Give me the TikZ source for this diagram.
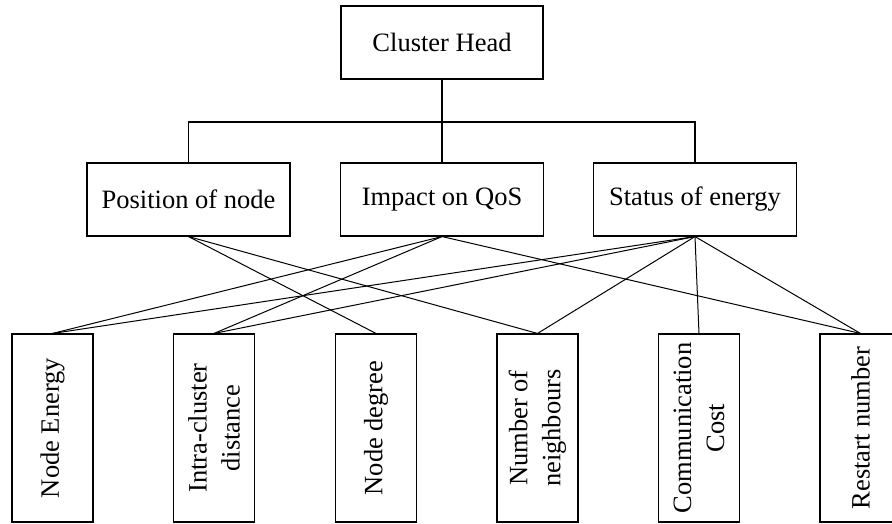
\documentclass[tikz,border=0pt]{standalone}
\usepackage{fontspec}
\setmainfont{Liberation Serif}
\begin{document}
\begin{tikzpicture}[x=1pt,y=-1pt,
  line width=1.1pt,
  box/.style={draw, rectangle, inner sep=0pt, align=center,
    font=\fontsize{26.5}{33}\selectfont},
  midbox/.style={box, minimum width=203pt, minimum height=73pt},
  leafbox/.style={box, rotate=90, minimum width=188pt, minimum height=81pt},
  link/.style={draw, line width=1pt}]
\useasboundingbox (0,0) rectangle (892,524);
\node[midbox, minimum width=202pt] (ch) at (442,42.5) {Cluster Head};
\node[midbox] (pos) at (188.5,199.5) {Position of node};
\node[midbox] (imp) at (442,199.5) {Impact on QoS};
\node[midbox] (sta) at (695,199.5) {Status of energy};
\coordinate (bus) at (442,122);
\node[leafbox] (ne) at (52.5,428) {Node Energy};
\node[leafbox] (ic) at (214,428) {Intra-cluster\\distance};
\node[leafbox] (nd) at (376,428) {Node degree};
\node[leafbox] (nn) at (537.5,428) {Number of\\neighbours};
\node[leafbox] (cc) at (699,428) {Communication\\Cost};
\node[leafbox] (rn) at (860.5,428) {Restart number};
% tree bus
\draw (ch.south) -- (imp.north);
\draw (pos.north) -- (pos.north |- bus) -- (sta.north |- bus) -- (sta.north);
% cross links
\path[link] (pos.south) -- (nd.east);
\path[link] (pos.south) -- (nn.east);
\path[link] (imp.south) -- (ne.east);
\path[link] (imp.south) -- (ic.east);
\path[link] (imp.south) -- (rn.east);
\path[link] (sta.south) -- (ne.east);
\path[link] (sta.south) -- (ic.east);
\path[link] (sta.south) -- (nn.east);
\path[link] (sta.south) -- (cc.east);
\path[link] (sta.south) -- (rn.east);
\end{tikzpicture}
\end{document}
